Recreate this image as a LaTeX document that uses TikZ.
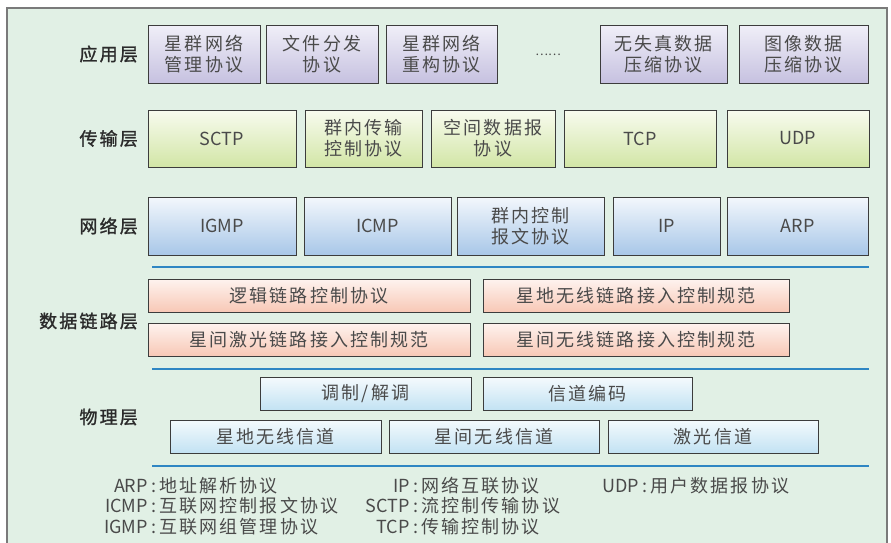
\documentclass[tikz,border=0pt]{standalone}
\usepackage{fontspec}
\setmainfont{Noto Sans CJK SC}
\newfontfamily\cjkf{Noto Sans CJK SC}[LetterSpace=12]
\newfontfamily\lblf{Noto Sans CJK SC}[LetterSpace=12,FakeBold=1.3]
\definecolor{bgc}{HTML}{E1F0E5}
\definecolor{framec}{HTML}{7A7A7A}
\definecolor{boxline}{HTML}{3C3C3C}
\definecolor{txt}{HTML}{4A4A4A}
\definecolor{lbl}{HTML}{2A2A2A}
\definecolor{appT}{HTML}{F0EFF8}
\definecolor{appB}{HTML}{C6C1E0}
\definecolor{traT}{HTML}{F8FBEF}
\definecolor{traB}{HTML}{D2E6A6}
\definecolor{netT}{HTML}{F3F7FC}
\definecolor{netB}{HTML}{A8C7E8}
\definecolor{dlT}{HTML}{FEF3EF}
\definecolor{dlB}{HTML}{F8C8B6}
\definecolor{phT}{HTML}{F4FAFD}
\definecolor{phB}{HTML}{C2E2F3}
\definecolor{linec}{HTML}{2F86C3}
\begin{document}
\begin{tikzpicture}[x=1pt,y=-1pt,
  box/.style={draw=boxline, line width=0.9pt, text=txt, align=center,
    inner sep=0pt, font=\cjkf\fontsize{18}{21}\selectfont},
  latin/.style={font=\rmfamily\fontsize{18}{21}\selectfont},
  appbox/.style={box, top color=appT, bottom color=appB, minimum height=58},
  trabox/.style={box, top color=traT, bottom color=traB, minimum height=57},
  netbox/.style={box, top color=netT, bottom color=netB, minimum height=58},
  dlbox/.style={box, top color=dlT, bottom color=dlB, minimum height=33},
  phbox/.style={box, top color=phT, bottom color=phB, minimum height=33},
  layer/.style={anchor=east, text=lbl, inner sep=0pt, font=\lblf\fontsize{18}{21}\selectfont},
  sepline/.style={draw=linec, line width=1.3pt},
  legab/.style={anchor=base east, text=txt, inner sep=0pt, font=\rmfamily\fontsize{18}{21}\selectfont},
  legtx/.style={anchor=base west, text=txt, inner sep=0pt, font=\cjkf\fontsize{18}{21}\selectfont}
]
\useasboundingbox (0,0) rectangle (891,542);
\fill[bgc] (7,8) rectangle (887,600);
\draw[framec, line width=1.3pt] (7,8) rectangle (887,600);

% Application layer
\node[layer] (Lapp) at (138,54) {应用层};
\node[appbox, minimum width=112] (a1) at (204,54) {星群网络\\管理协议};
\node[appbox, minimum width=112] (a2) at (322,54) {文件分发\\协议};
\node[appbox, minimum width=111] (a3) at (441.5,54) {星群网络\\重构协议};
\node[text=txt, inner sep=0pt, font=\rmfamily\fontsize{12}{14}\selectfont] (dots) at (548,55) {……};
\node[appbox, minimum width=127] (a4) at (663.5,54) {无失真数据\\压缩协议};
\node[appbox, minimum width=129] (a5) at (803.5,54) {图像数据\\压缩协议};

% Transport layer
\node[layer] (Ltra) at (138,138.5) {传输层};
\node[trabox, latin, minimum width=148] (t1) at (222,138.5) {SCTP};
\node[trabox, minimum width=117] (t2) at (363.5,138.5) {群内传输\\控制协议};
\node[trabox, minimum width=124] (t3) at (493,138.5) {空间数据报\\协议};
\node[trabox, latin, minimum width=152] (t4) at (640,138.5) {TCP};
\node[trabox, latin, minimum width=142] (t5) at (798,138.5) {UDP};

% Network layer
\node[layer] (Lnet) at (138,226) {网络层};
\node[netbox, latin, minimum width=148] (n1) at (222,226) {IGMP};
\node[netbox, latin, minimum width=147] (n2) at (377.5,226) {ICMP};
\node[netbox, minimum width=147] (n3) at (530.5,226) {群内控制\\报文协议};
\node[netbox, latin, minimum width=107] (n4) at (666.5,226) {IP};
\node[netbox, latin, minimum width=141] (n5) at (797.5,226) {ARP};

\coordinate (s1a) at (152,267); \coordinate (s1b) at (869,267);
\draw[sepline] (s1a) -- (s1b);

% Data link layer
\node[layer] (Ldl) at (138,321) {数据链路层};
\node[dlbox, minimum width=322] (d1) at (309,295.5) {逻辑链路控制协议};
\node[dlbox, minimum width=306] (d2) at (636,295.5) {星地无线链路接入控制规范};
\node[dlbox, minimum width=322] (d3) at (309,339.5) {星间激光链路接入控制规范};
\node[dlbox, minimum width=306] (d4) at (636,339.5) {星间无线链路接入控制规范};

\coordinate (s2a) at (152,369); \coordinate (s2b) at (869,369);
\draw[sepline] (s2a) -- (s2b);

% Physical layer
\node[layer] (Lph) at (138,417) {物理层};
\node[phbox, minimum width=211] (p1) at (365.5,394) {调制/解调};
\node[phbox, minimum width=209] (p2) at (587.5,394) {信道编码};
\node[phbox, minimum width=211] (p3) at (275.5,436.5) {星地无线信道};
\node[phbox, minimum width=210] (p4) at (494,436.5) {星间无线信道};
\node[phbox, minimum width=210] (p5) at (713,436.5) {激光信道};

\coordinate (s3a) at (152,466); \coordinate (s3b) at (869,466);
\draw[sepline] (s3a) -- (s3b);

% Legend
\node[legab] (g1a) at (148,492) {ARP};
\node[legtx] (g1b) at (151,492) {:\hspace{3pt}地址解析协议};
\node[legab] (g2a) at (148,512.5) {ICMP};
\node[legtx] (g2b) at (151,512.5) {:\hspace{3pt}互联网控制报文协议};
\node[legab] (g3a) at (148,533) {IGMP};
\node[legtx] (g3b) at (151,533) {:\hspace{3pt}互联网组管理协议};
\node[legab] (g4a) at (410,492) {IP};
\node[legtx] (g4b) at (413,492) {:\hspace{3pt}网络互联协议};
\node[legab] (g5a) at (410,512.5) {SCTP};
\node[legtx] (g5b) at (413,512.5) {:\hspace{3pt}流控制传输协议};
\node[legab] (g6a) at (410,533) {TCP};
\node[legtx] (g6b) at (413,533) {:\hspace{3pt}传输控制协议};
\node[legab] (g7a) at (639,492) {UDP};
\node[legtx] (g7b) at (642,492) {:\hspace{3pt}用户数据报协议};
\end{tikzpicture}
\end{document}
